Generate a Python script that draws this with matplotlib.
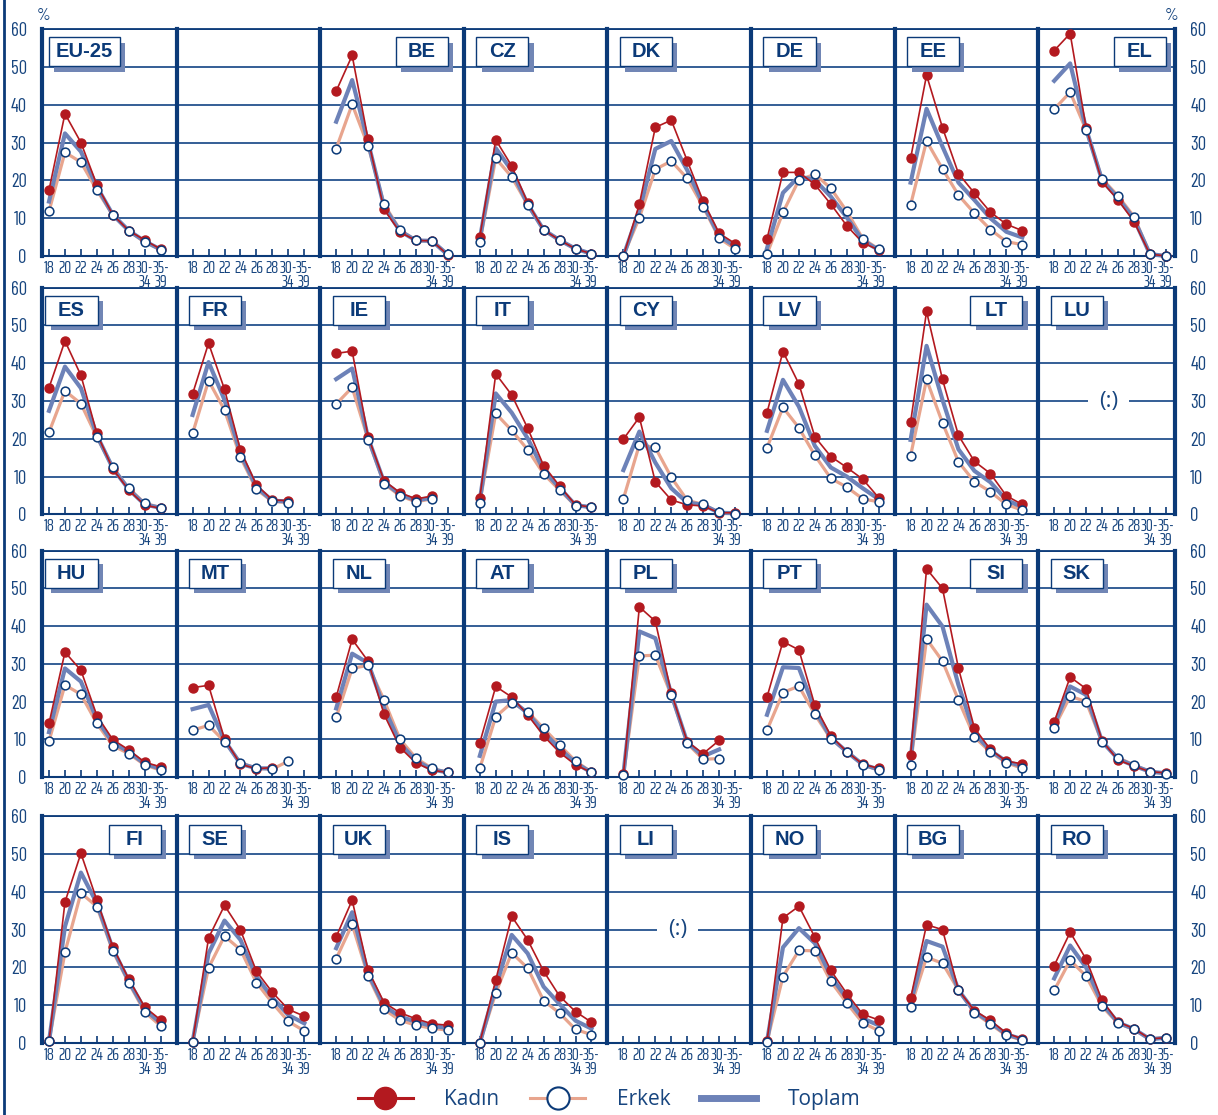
import numpy as np
import matplotlib.pyplot as plt
from matplotlib.patches import Rectangle
from matplotlib.lines import Line2D

# age groups on the x axis
ages = ['18', '20', '22', '24', '26', '28', '30-\n34', '35-\n39']

# layout of the small multiples (4 rows x 8 columns)
panel_rows = [
    ['EU-25', '', 'BE', 'CZ', 'DK', 'DE', 'EE', 'EL'],
    ['ES', 'FR', 'IE', 'IT', 'CY', 'LV', 'LT', 'LU'],
    ['HU', 'MT', 'NL', 'AT', 'PL', 'PT', 'SI', 'SK'],
    ['FI', 'SE', 'UK', 'IS', 'LI', 'NO', 'BG', 'RO'],
]
right_box = ['BE', 'EL', 'LT', 'SI', 'FI']
no_data = ['LU', 'LI']

# % values per age group (None = not available)
kadin = {
    'EU-25': [17.4, 37.6, 30.0, 18.8, 10.9, 6.7, 4.2, 1.8],
    'BE': [43.6, 53.0, 30.8, 12.3, 6.3, 4.1, 4.0, 0.3],
    'CZ': [5.0, 30.7, 23.8, 14.1, 6.9, 4.2, 1.9, 0.6],
    'DK': [0.0, 13.7, 34.0, 35.9, 25.2, 14.5, 6.0, 3.3],
    'DE': [4.5, 22.1, 22.1, 18.9, 13.7, 8.0, 3.5, 1.6],
    'EE': [25.8, 47.8, 33.9, 21.8, 16.6, 11.6, 8.4, 6.7],
    'EL': [54.3, 58.8, 33.9, 19.6, 14.8, 9.1, 0.5, 0.0],
    'ES': [33.5, 45.9, 36.8, 21.4, 12.0, 6.4, 2.4, 1.6],
    'FR': [31.9, 45.3, 33.1, 17.0, 7.8, 3.8, 3.6, None],
    'IE': [42.6, 43.2, 20.6, 8.9, 5.7, 4.1, 4.8, None],
    'IT': [4.2, 37.2, 31.6, 22.8, 12.9, 7.5, 2.5, 1.9],
    'CY': [19.9, 25.7, 8.6, 3.8, 2.5, 2.2, 0.4, 0.4],
    'LV': [26.9, 43.1, 34.5, 20.5, 15.3, 12.4, 9.3, 4.4],
    'LT': [24.4, 53.7, 35.7, 20.9, 14.0, 10.8, 4.9, 2.6],
    'HU': [14.2, 33.1, 28.3, 16.3, 9.9, 7.2, 3.9, 2.7],
    'MT': [23.7, 24.3, 10.1, 3.4, 2.2, 2.5, None, None],
    'NL': [21.2, 36.5, 30.7, 16.6, 7.8, 3.7, 1.8, 1.2],
    'AT': [9.1, 24.0, 21.2, 16.5, 10.9, 6.5, 3.2, 1.2],
    'PL': [0.8, 45.1, 41.3, 22.3, 9.4, 6.2, 9.7, None],
    'PT': [21.2, 35.9, 33.7, 19.0, 10.9, 6.7, 3.4, 2.3],
    'SI': [5.8, 55.2, 50.0, 28.8, 13.0, 7.3, 4.2, 3.5],
    'SK': [14.6, 26.5, 23.4, 9.6, 4.5, 2.9, 1.4, 1.1],
    'FI': [0.4, 37.3, 50.2, 37.8, 25.4, 16.9, 9.5, 6.1],
    'SE': [0.3, 27.8, 36.4, 29.9, 19.0, 13.4, 8.9, 7.1],
    'UK': [28.1, 37.8, 19.3, 10.7, 8.0, 6.4, 5.1, 4.7],
    'IS': [0.1, 16.7, 33.5, 27.3, 19.0, 12.4, 8.3, 5.5],
    'NO': [0.5, 33.1, 36.2, 28.0, 19.2, 13.1, 7.6, 6.1],
    'BG': [11.8, 31.3, 30.0, 14.0, 8.6, 6.0, 2.6, 1.1],
    'RO': [20.5, 29.3, 22.2, 11.3, 5.6, 3.8, 1.1, 1.4],
}
erkek = {
    'EU-25': [11.8, 27.4, 24.8, 17.4, 10.8, 6.7, 3.6, 1.7],
    'BE': [28.4, 40.1, 29.1, 13.7, 6.9, 4.1, 4.0, 0.4],
    'CZ': [3.7, 25.8, 20.9, 13.5, 6.9, 4.2, 1.9, 0.6],
    'DK': [0.1, 10.1, 22.9, 25.1, 20.5, 13.0, 4.7, 1.9],
    'DE': [0.5, 11.5, 20.1, 21.6, 17.9, 11.8, 4.6, 1.8],
    'EE': [13.5, 30.4, 23.0, 16.1, 11.3, 7.0, 3.8, 3.0],
    'EL': [38.8, 43.3, 33.3, 20.4, 15.9, 10.4, 0.5, 0.0],
    'ES': [21.7, 32.7, 29.3, 20.4, 12.4, 6.9, 2.9, 1.8],
    'FR': [21.4, 35.4, 27.6, 15.1, 6.6, 3.4, 3.1, None],
    'IE': [29.2, 33.6, 19.8, 8.1, 4.9, 3.3, 4.1, None],
    'IT': [3.1, 26.7, 22.2, 17.1, 10.7, 6.4, 2.3, 1.9],
    'CY': [4.1, 18.4, 17.7, 9.8, 3.7, 2.6, 0.5, 0.2],
    'LV': [17.6, 28.3, 22.9, 15.6, 9.5, 7.2, 4.1, 3.3],
    'LT': [15.5, 35.7, 24.2, 13.9, 8.6, 6.0, 2.6, 1.1],
    'HU': [9.5, 24.4, 21.9, 14.2, 8.3, 6.2, 3.2, 1.8],
    'MT': [12.4, 13.7, 9.4, 3.8, 2.3, 2.1, 4.2, None],
    'NL': [15.8, 28.8, 29.6, 20.4, 10.0, 5.0, 2.3, 1.2],
    'AT': [2.3, 16.0, 19.7, 17.3, 12.9, 8.5, 4.2, 1.3],
    'PL': [0.5, 32.1, 32.3, 21.7, 8.9, 4.7, 4.9, None],
    'PT': [12.4, 22.4, 24.1, 16.6, 10.1, 6.7, 3.3, 1.8],
    'SI': [3.3, 36.6, 30.7, 20.4, 10.6, 6.6, 3.8, 2.3],
    'SK': [13.1, 21.4, 20.0, 9.2, 5.1, 3.2, 1.4, 0.9],
    'FI': [0.4, 24.0, 39.7, 36.1, 24.3, 15.9, 8.2, 4.5],
    'SE': [0.3, 19.9, 28.3, 24.7, 16.0, 10.6, 5.7, 3.2],
    'UK': [22.3, 31.4, 17.7, 8.9, 6.0, 4.7, 3.9, 3.4],
    'IS': [0.0, 13.2, 23.9, 19.8, 11.2, 7.9, 3.6, 2.2],
    'NO': [0.3, 17.6, 24.5, 24.4, 16.3, 10.6, 5.3, 3.3],
    'BG': [9.4, 22.7, 21.1, 14.0, 8.0, 5.0, 2.0, 0.8],
    'RO': [13.9, 21.9, 17.7, 9.7, 5.2, 3.6, 1.0, 1.4],
}
toplam = {
    'EU-25': [14.4, 32.4, 27.6, 18.3, 10.9, 6.7, 3.9, 1.7],
    'BE': [35.5, 46.5, 30.0, 13.0, 6.6, 4.1, 4.0, 0.3],
    'CZ': [4.4, 28.5, 22.6, 13.7, 6.9, 4.2, 1.9, 0.6],
    'DK': [0.0, 12.0, 28.3, 30.4, 22.7, 13.7, 5.3, 2.6],
    'DE': [2.0, 16.7, 21.0, 20.1, 15.7, 10.2, 4.1, 1.6],
    'EE': [19.4, 38.9, 28.9, 19.4, 14.8, 10.0, 6.4, 4.9],
    'EL': [46.3, 50.9, 33.6, 20.0, 15.3, 9.8, 0.5, 0.0],
    'ES': [27.4, 39.1, 33.4, 20.9, 12.2, 6.6, 2.6, 1.7],
    'FR': [26.3, 40.3, 30.3, 16.1, 7.2, 3.6, 3.4, None],
    'IE': [35.8, 38.6, 20.2, 8.5, 5.3, 3.7, 4.4, None],
    'IT': [3.7, 32.0, 26.9, 20.1, 11.7, 7.0, 2.4, 1.9],
    'CY': [11.7, 21.9, 13.7, 6.9, 3.1, 2.5, 0.4, 0.3],
    'LV': [22.1, 35.6, 28.5, 18.1, 12.4, 10.0, 6.9, 4.0],
    'LT': [19.7, 44.6, 30.3, 17.2, 11.5, 8.5, 3.8, 1.9],
    'HU': [11.9, 28.8, 25.3, 15.3, 9.1, 6.7, 3.5, 2.2],
    'MT': [18.0, 19.1, 9.7, 3.5, 2.3, 2.3, None, None],
    'NL': [18.2, 32.7, 30.2, 18.4, 8.9, 4.3, 2.0, 1.2],
    'AT': [5.6, 20.0, 20.4, 16.9, 11.9, 7.5, 3.7, 1.2],
    'PL': [0.7, 38.6, 36.8, 22.0, 9.2, 5.5, 7.3, None],
    'PT': [16.5, 29.1, 28.9, 17.8, 10.4, 6.7, 3.3, 2.0],
    'SI': [4.5, 45.7, 39.9, 24.4, 11.6, 7.0, 4.1, 2.9],
    'SK': [13.8, 24.0, 21.8, 9.4, 4.8, 3.0, 1.4, 1.0],
    'FI': [0.4, 30.8, 45.1, 37.0, 24.9, 16.4, 8.9, 5.3],
    'SE': [0.3, 23.7, 32.4, 27.3, 17.6, 12.0, 7.4, 5.2],
    'UK': [25.1, 34.6, 18.4, 9.8, 7.0, 5.6, 4.5, 4.0],
    'IS': [0.0, 14.9, 28.6, 23.7, 14.9, 10.3, 5.9, 3.8],
    'NO': [0.4, 25.3, 30.4, 26.4, 17.7, 11.8, 6.5, 4.7],
    'BG': [10.5, 27.0, 25.5, 14.0, 8.3, 5.5, 2.3, 1.0],
    'RO': [17.1, 25.8, 20.0, 10.5, 5.4, 3.7, 1.0, 1.4],
}

navy = '#0b3a78'
text_c = '#17457f'
grid_c = '#24528e'
red = '#b3191f'
salmon = '#e8a58e'
blue = '#6d82b8'
shadow = '#7186b5'
xfont = ['Saira ExtraCondensed', 'Barlow Condensed', 'DejaVu Sans']
yfont = ['Barlow Condensed', 'DejaVu Sans']

W, H = 1218, 1115
fig = plt.figure(figsize=(W / 100, H / 100), dpi=100)

step = 143.6          # px between panels
u = step / 9          # px per x unit
row_px = [(29, 256), (287.7, 514.3), (550.7, 777), (816.3, 1043)]

for r, row in enumerate(panel_rows):
    top, bot = row_px[r]
    for c, code in enumerate(row):
        x0 = 49 + c * step
        xmin = -0.44 if c == 0 else -1
        xmax = 7.57 if c == 7 else 8
        left = x0 + xmin * u
        right = x0 + xmax * u
        ax = fig.add_axes([left / W, 1 - bot / H, (right - left) / W, (bot - top) / H])
        ax.set_xlim(xmin, xmax)
        ax.set_ylim(0, 60)
        ax.set_axisbelow(True)
        ax.grid(axis='y', color=grid_c, lw=1.3)
        ax.set_yticks(range(0, 61, 10))
        ax.set_xticks(range(len(ages)))
        ax.set_xticklabels(ages, fontsize=12.5, family=xfont, color=text_c, linespacing=0.82)
        ax.tick_params(axis='x', direction='in', length=5, width=1.2, color=navy, pad=3)
        ax.tick_params(axis='y', length=0, labelleft=(c == 0), labelright=(c == 7),
                       labelsize=13.5, labelcolor=text_c, pad=11)
        for t in ax.get_yticklabels():
            t.set_family(yfont)

        for s in ['left', 'right', 'top', 'bottom']:
            ax.spines[s].set_color(navy)
        ax.spines['left'].set_linewidth(3)
        ax.spines['right'].set_linewidth(3)
        ax.spines['right'].set_visible(c == 7)
        ax.spines['top'].set_linewidth(1.3)
        ax.spines['bottom'].set_linewidth(1.5)

        if not code:
            continue

        if code in kadin:
            xs = np.arange(len(ages))
            k = np.array(kadin[code], dtype=float)
            e = np.array(erkek[code], dtype=float)
            t = np.array(toplam[code], dtype=float)
            ax.plot(xs, e, color=salmon, lw=2.3, zorder=2, clip_on=False)
            ax.plot(xs, t, color=blue, lw=3, zorder=3, clip_on=False)
            ax.plot(xs, k, color=red, lw=1.2, marker='o', ms=6.5, mfc=red, mec=red,
                    zorder=4, clip_on=False)
            ax.plot(xs, e, ls='none', marker='o', ms=6.3, mfc='white', mec=navy, mew=1.1,
                    zorder=5, clip_on=False)

        if code in no_data:
            ax.text(3.4, 30, '(:)', ha='center', va='center', fontsize=16, color=text_c,
                    family='Open Sans', zorder=3,
                    bbox=dict(fc='white', ec='none', pad=8))

        # country label box with shadow
        bw = 4.45 if code == 'EU-25' else 3.26
        bx = 7.0 - bw if code in right_box else (-0.03 if code == 'EU-25' else -0.22)
        by, bh = 50.1, 7.7
        ax.add_patch(Rectangle((bx + 0.33, by - 1.4), bw, bh, fc=shadow, ec='none',
                               zorder=6, clip_on=False))
        ax.add_patch(Rectangle((bx, by), bw, bh, fc='white', ec=navy, lw=1.0,
                               zorder=7, clip_on=False))
        ax.text(bx + bw / 2, by + bh / 2, code, ha='center', va='center', fontsize=14.5,
                fontweight='bold', family='Liberation Sans', color=navy, zorder=8)

fig.text(44 / W, 1 - 16 / H, '%', ha='center', va='center', fontsize=12.5,
         family=yfont, color=text_c)
fig.text(1172 / W, 1 - 16 / H, '%', ha='center', va='center', fontsize=12.5,
         family=yfont, color=text_c)

# frame line on the left side of the page
fig.add_artist(Line2D([4 / W, 4 / W], [0, 1], transform=fig.transFigure, color=navy, lw=2))

h1 = Line2D([], [], color=red, lw=2.2, marker='o', ms=16, mfc=red, mec=red)
h2 = Line2D([], [], color=salmon, lw=2.2, marker='o', ms=16, mfc='white', mec=navy, mew=1.5)
h3 = Line2D([], [], color=blue, lw=5)
fig.legend([h1, h2, h3], ['Kadın', 'Erkek', 'Toplam'], loc='center',
           bbox_to_anchor=(0.5, 0.0135), ncol=3, frameon=False, numpoints=1,
           handlelength=2.64, handletextpad=1.5, columnspacing=1.5,
           prop={'family': 'Open Sans', 'size': 15}, labelcolor=text_c)

fig.savefig('out.png', dpi=100)
